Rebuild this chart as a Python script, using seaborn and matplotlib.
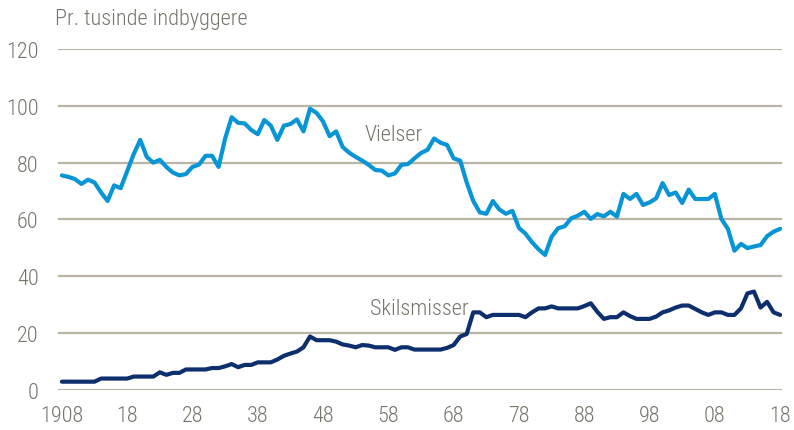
import numpy as np
import pandas as pd
import matplotlib
matplotlib.use("Agg")
import matplotlib.pyplot as plt
import seaborn as sns

# data, one value per year 1908-2018
aar = list(range(1908, 2019))
vielser = [
    75.5, 75, 74.2, 72.5, 74, 73, 69.5, 66.5, 72, 71,           # 1908-1917
    77, 83, 88, 82, 80, 81, 78.5, 76.5, 75.5, 76,               # 1918-1927
    78.5, 79.3, 82.4, 82.4, 78.5, 88.5, 96, 94, 93.8, 91.5,     # 1928-1937
    90, 95, 93, 88, 93, 93.6, 95.2, 91, 99, 97.5,               # 1938-1947
    94.5, 89.3, 91, 85.5, 83.5, 82, 80.7, 79.2, 77.4, 77.2,     # 1948-1957
    75.5, 76.2, 79.2, 79.5, 81.5, 83.4, 84.5, 88.5, 87, 86.2,   # 1958-1967
    81.5, 80.7, 73, 66.5, 62.5, 62, 66.5, 63.5, 62, 63,         # 1968-1977
    57, 55, 52, 49.5, 47.5, 53.9, 56.9, 57.6, 60.4, 61.3,       # 1978-1987
    62.7, 60.2, 61.9, 61.1, 62.7, 61, 69, 67.2, 69, 65.1,       # 1988-1997
    66, 67.4, 72.8, 68.6, 69.5, 65.8, 70.5, 67.2, 67.2, 67.2,   # 1998-2007
    69, 60.2, 56.7, 49, 51.4, 49.9, 50.5, 51, 54.1, 55.7,       # 2008-2017
    56.7,                                                       # 2018
]
skilsmisser = [
    2.9, 2.9, 2.9, 2.9, 2.9, 2.9, 4.0, 4.0, 4.0, 4.0,           # 1908-1917
    4.0, 4.7, 4.7, 4.7, 4.7, 6.2, 5.3, 6, 6, 7.2,               # 1918-1927
    7.2, 7.2, 7.2, 7.7, 7.7, 8.3, 9.1, 8, 8.8, 8.8,             # 1928-1937
    9.7, 9.7, 9.7, 10.7, 12, 12.8, 13.5, 15, 18.8, 17.5,        # 1938-1947
    17.5, 17.5, 17, 16, 15.6, 15, 15.8, 15.6, 15, 15,           # 1948-1957
    15, 14.1, 15, 15, 14.2, 14.2, 14.2, 14.2, 14.2, 14.8,       # 1958-1967
    15.8, 18.8, 19.7, 27.3, 27.3, 25.6, 26.4, 26.4, 26.4, 26.4, # 1968-1977
    26.4, 25.6, 27.3, 28.7, 28.7, 29.4, 28.7, 28.7, 28.7, 28.7, # 1978-1987
    29.5, 30.5, 27.5, 25, 25.6, 25.6, 27.3, 26, 25, 25,         # 1988-1997
    25, 25.8, 27.3, 28, 29, 29.7, 29.7, 28.5, 27.3, 26.4,       # 1998-2007
    27.3, 27.3, 26.4, 26.4, 28.7, 34, 34.6, 29, 31, 27.3,       # 2008-2017
    26.4,                                                       # 2018
]
xticks = [1908, 1918, 1928, 1938, 1948, 1958, 1968, 1978, 1988, 1998, 2008, 2018]
xtick_labels = ["1908", "18", "28", "38", "48", "58", "68", "78", "88", "98", "08", "18"]
yticks = [0, 20, 40, 60, 80, 100, 120]

df = pd.DataFrame({"aar": aar, "Vielser": vielser, "Skilsmisser": skilsmisser})

sns.set_style("white")
plt.rcParams['font.family'] = ['Roboto Condensed', 'DejaVu Sans']
plt.rcParams['font.weight'] = 'light'

tekst = '#75756a'
grid = '#b8b5a4'
fs = 16

fig = plt.figure(figsize=(7.94, 4.31), dpi=100)
ax = fig.add_axes([0.073, 0.093, 0.912, 0.791])

for y in yticks:
    ax.axhline(y, color=grid, lw=1.6, zorder=0)

sns.lineplot(data=df, x="aar", y="Vielser", ax=ax, color='#0795d6', lw=3.0, zorder=3)
sns.lineplot(data=df, x="aar", y="Skilsmisser", ax=ax, color='#0d2f6d', lw=3.0, zorder=3)

ax.set_xlim(1907.4, 2018.3)
ax.set_ylim(0, 120)
ax.set_xticks(xticks)
ax.set_xticklabels(xtick_labels)
ax.set_yticks(yticks)
ax.tick_params(axis='x', length=0, pad=11, labelsize=fs, labelcolor=tekst)
ax.tick_params(axis='y', length=0, pad=14, labelsize=fs, labelcolor=tekst)
ax.set_xlabel('')
ax.set_ylabel('')
sns.despine(ax=ax, left=True, bottom=True)

ax.text(1954.4, 90, 'Vielser', fontsize=fs, color=tekst, va='center', ha='left')
ax.text(1955.2, 28.5, 'Skilsmisser', fontsize=fs, color=tekst, va='center', ha='left')
fig.text(55 / 794, 1 - 20 / 431, 'Pr. tusinde indbyggere', fontsize=fs, color=tekst,
         va='center', ha='left')

fig.savefig('out.png', dpi=100)
